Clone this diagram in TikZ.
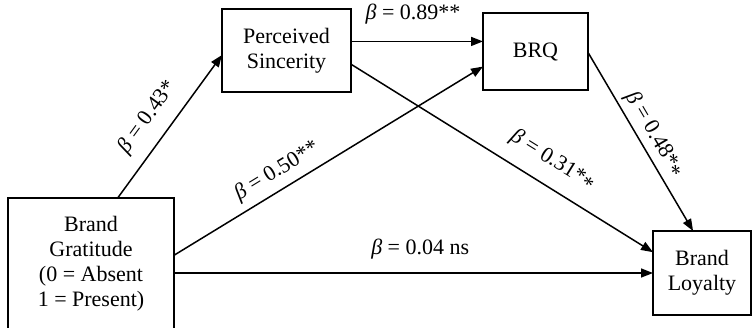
\documentclass[tikz,border=0pt]{standalone}
\usepackage{fontspec}
\setmainfont{Liberation Serif}
\usetikzlibrary{arrows.meta}
\begin{document}
\begin{tikzpicture}[x=0.5pt,y=-0.5pt,
    box/.style={draw,line width=0.8pt,align=center,inner sep=0pt,outer sep=0pt,font=\fontsize{11}{12.5}\selectfont},
    link/.style={line width=0.75pt,-{Triangle[length=6pt,width=4.5pt]}},
    coef/.style={sloped,inner sep=0pt,font=\fontsize{11}{12.5}\selectfont}]
    \useasboundingbox (0,0) rectangle (753,327);
    \node[box,minimum width=64.5pt,minimum height=41.5pt] (ps) at (286.5,50.5) {Perceived\\Sincerity};
    \node[box,minimum width=52.5pt,minimum height=38.5pt] (brq) at (535.5,51.5) {BRQ};
    \node[box,minimum width=83pt,minimum height=66pt] (bg) at (91,264) {Brand\\Gratitude\\(0 = Absent\\1 = Present)};
    \node[box,minimum width=49pt,minimum height=42pt] (bl) at (702,273) {Brand\\Loyalty};
    \draw[link] (bg.68.5) -- node[coef,pos=0.47,above=6.3pt] {\textit{β} = 0.43*} (ps.184);
    \draw[link] (ps.8.4) -- node[coef,pos=0.47,above=8.5pt] {\textit{β} = 0.89**} (ps.8.4 -| brq.west);
    \draw[link] (bg.6.2) -- node[coef,pos=0.364,above=3.6pt] {\textit{β} = 0.50**} (brq.196.4);
    \draw[link] (ps.-12.7) -- node[coef,pos=0.624,above=7pt] {\textit{β} = 0.31*\raisebox{-2pt}{*}} (bl.157.8);
    \draw[link] (brq.-1.6) -- node[coef,pos=0.504,above=2.5pt] {\textit{β} = 0.48*\raisebox{-2pt}{*}} (bl.102.1);
    \draw[link] (bg.east |- bl.west) -- node[coef,pos=0.514,above=6.5pt] {\textit{β} = 0.04 ns} (bl.west);
\end{tikzpicture}
\end{document}
